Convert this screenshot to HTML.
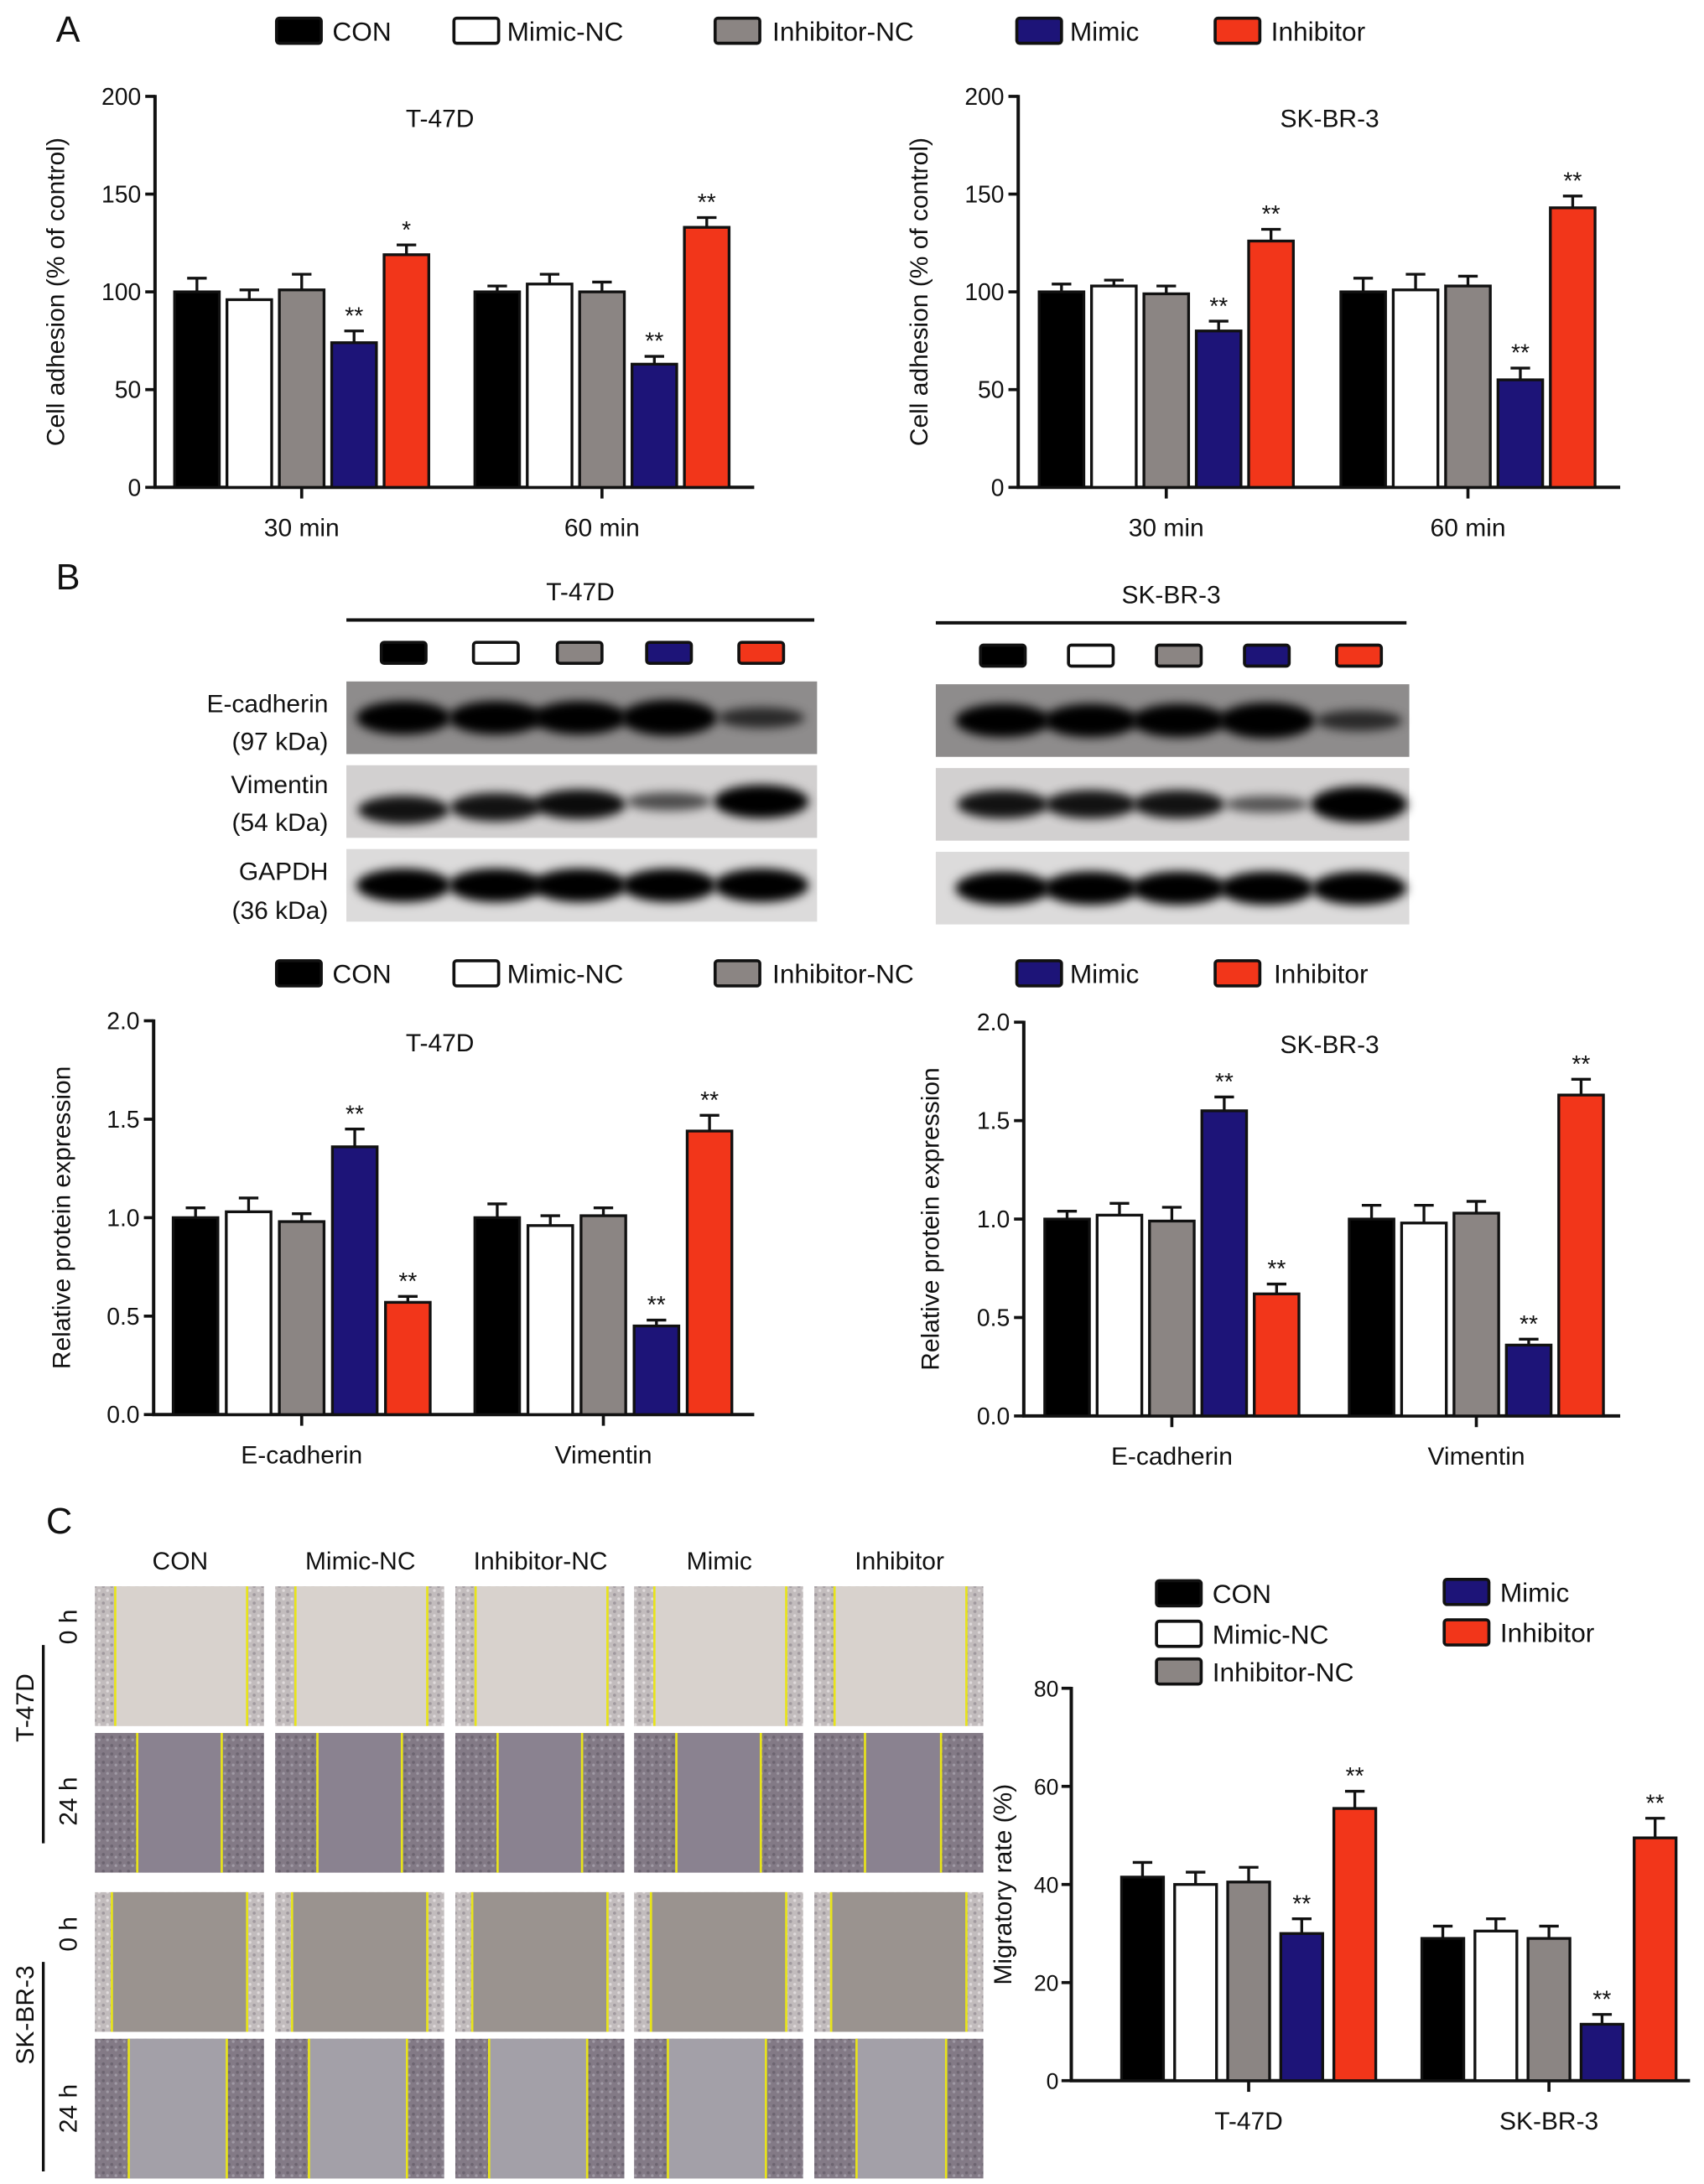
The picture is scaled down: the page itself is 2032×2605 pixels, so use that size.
<!DOCTYPE html>
<html><head><meta charset="utf-8"><style>
html,body{margin:0;padding:0;background:#fff}
svg{display:block}
text{font-family:"Liberation Sans",Arial,sans-serif;fill:#111}
</style></head><body>
<svg id="fig" xmlns="http://www.w3.org/2000/svg" width="2032" height="2605" viewBox="0 0 1220 1564" preserveAspectRatio="none">
<defs>
<filter id="blur" x="-30%" y="-60%" width="160%" height="220%"><feGaussianBlur stdDeviation="3.5"/></filter>
<pattern id="tex0" width="6" height="6" patternUnits="userSpaceOnUse"><rect width="6" height="6" fill="#c2bcbd"/><circle cx="2" cy="2" r="1.1" fill="#9f989d"/><circle cx="5" cy="5" r="1" fill="#e0dbdc"/></pattern>
<pattern id="tex1" width="6" height="6" patternUnits="userSpaceOnUse"><rect width="6" height="6" fill="#837a86"/><circle cx="2" cy="2" r="1.1" fill="#6c6470"/><circle cx="5" cy="4" r="1" fill="#a09aa5"/></pattern>
</defs>
<g id="root"></g>
</svg>
<script>
// ---------- data ----------
const groups = ["CON","Mimic-NC","Inhibitor-NC","Mimic","Inhibitor"];
const adhCats = ["30 min","60 min"];
const adhT47D = [[100,96,101,74,119],[100,104,100,63,133]];
const adhT47DErr = [[7,5,8,6,5],[3,5,5,4,5]];
const adhT47DSig = [["","","","**","*"],["","","","**","**"]];
const adhSK = [[100,103,99,80,126],[100,101,103,55,143]];
const adhSKErr = [[4,3,4,5,6],[7,8,5,6,6]];
const adhSKSig = [["","","","**","**"],["","","","**","**"]];
const adhTicks = [0,50,100,150,200];
const protCats = ["E-cadherin","Vimentin"];
const protT47D = [[1.0,1.03,0.98,1.36,0.57],[1.0,0.96,1.01,0.45,1.44]];
const protT47DErr = [[0.05,0.07,0.04,0.09,0.03],[0.07,0.05,0.04,0.03,0.08]];
const protSK = [[1.0,1.02,0.99,1.55,0.62],[1.0,0.98,1.03,0.36,1.63]];
const protSKErr = [[0.04,0.06,0.07,0.07,0.05],[0.07,0.09,0.06,0.03,0.08]];
const protSig = [["","","","**","**"],["","","","**","**"]];
const protTicks = [0,0.5,1.0,1.5,2.0];
const migCats = ["T-47D","SK-BR-3"];
const migVals = [[41.5,40,40.5,30,55.5],[29,30.5,29,11.5,49.5]];
const migErr = [[3,2.5,3,3,3.5],[2.5,2.5,2.5,2,4]];
const migSig = [["","","","**","**"],["","","","**","**"]];
const migTicks = [0,20,40,60,80];
const blotE_T = [1,1,1,1.1,0.5], blotV_T=[0.8,0.8,0.85,0.4,1], blotG_T=[1,1,1,1,1];
const blotE_S = [1,1,1,1.1,0.5], blotV_S=[0.8,0.8,0.8,0.35,1.1], blotG_S=[1,1,1,1,1];
// ---------- helpers ----------
const NS="http://www.w3.org/2000/svg";
const root=document.getElementById('root');
const fills=["#000000","#ffffff","#8b8583","#1d1478","#f2361a"];
function el(tag,attrs,parent,txt){const e=document.createElementNS(NS,tag);for(const k in attrs)e.setAttribute(k,attrs[k]);if(txt!==undefined)e.textContent=txt;(parent||root).appendChild(e);return e;}
function txt(x,y,s,size,anchor,parent,extra){const t=el('text',Object.assign({x:x,y:y,'font-size':size,'text-anchor':anchor||'start'},extra||{}),parent,s);return t;}

function legendRow(y,xs,tx,parent){
  groups.forEach((g,i)=>{
    const b=el('rect',{x:xs[i],y:y-9,width:32,height:18,rx:2,fill:fills[i],stroke:'#111','stroke-width':2.2},parent);
    
    
    const t=txt(tx[i],y+7,g,19,'start',parent);
    
    
  });
}

function barChart(o){
  const g=el('g',{});
  
  
  const ymax=o.ticks[o.ticks.length-1];
  const Y=v=>o.y0-(v/ymax)*(o.y0-o.yTop);
  el('line',{x1:o.ax,y1:o.yTop-1,x2:o.ax,y2:o.y0+1,stroke:'#111','stroke-width':2.4},g);
  el('line',{x1:o.ax-1,y1:o.y0,x2:o.xEnd,y2:o.y0,stroke:'#111','stroke-width':2.4},g);
  o.ticks.forEach((t,i)=>{
    el('line',{x1:o.ax-7,y1:Y(t),x2:o.ax,y2:Y(t),stroke:'#111','stroke-width':2.2},g);
    const lab=txt(o.ax-(o.tickGap||10),Y(t)+6,o.tickLabels?o.tickLabels[i]:String(t),o.tickSize||17,'end',g);
    
    
  });
  const yl=txt(0,0,o.ylabel,18,'middle',g,{transform:`translate(${o.ylx},${(o.y0+o.yTop)/2}) rotate(-90)`});
  
  
  if(o.title){const tt=txt(o.titleX,o.yTop+22,o.title,18,'middle',g);}
  o.cats.forEach((c,ci)=>{
    const gx=o.gStart[ci];
    const center=gx+(4*o.step+o.bw)/2;
    el('line',{x1:center,y1:o.y0,x2:center,y2:o.y0+8,stroke:'#111','stroke-width':2.2},g);
    const cl=txt(center,o.y0+35,c,18,'middle',g);
    
    
    o.vals[ci].forEach((v,i)=>{
      const x=gx+i*o.step, top=Y(v), et=Y(v+o.err[ci][i]);
      el('line',{x1:x+o.bw/2,y1:top,x2:x+o.bw/2,y2:et,stroke:'#111','stroke-width':2},g);
      el('line',{x1:x+o.bw/2-7,y1:et,x2:x+o.bw/2+7,y2:et,stroke:'#111','stroke-width':2},g);
      const r=el('rect',{x:x,y:top,width:o.bw,height:o.y0-top,fill:fills[i],stroke:'#111','stroke-width':2},g);
      
      
      if(o.sig[ci][i]){const s=txt(x+o.bw/2,et-5,o.sig[ci][i],17,'middle',g);}
    });
  });
}

[["A",40,30],["B",40,422],["C",33,1098]].forEach(p=>{const t=txt(p[1],p[2],p[0],26,'start');});

const legA=el('g',{});
legendRow(22,[198,325,512,728,870],[238,363,553,766,910],legA);
barChart({name:'adhesion-chart-t47d',ax:111,y0:349,yTop:69,xEnd:540,ticks:adhTicks,ylabel:'Cell adhesion (% of control)',ylx:46,title:'T-47D',titleX:315,cats:adhCats,gStart:[125,340],step:37.5,bw:32,vals:adhT47D,err:adhT47DErr,sig:adhT47DSig});
barChart({name:'adhesion-chart-skbr3',ax:729,y0:349,yTop:69,xEnd:1160,ticks:adhTicks,ylabel:'Cell adhesion (% of control)',ylx:664,title:'SK-BR-3',titleX:952,cats:adhCats,gStart:[744,960],step:37.5,bw:32,vals:adhSK,err:adhSKErr,sig:adhSKSig});

function blot(o){
  const g=el('g',{});
  
  
  const h=txt((o.x0+o.x1)/2,o.hy,o.title,18,'middle',g);
  
  
  el('line',{x1:o.x0,y1:o.hy+14,x2:o.x1,y2:o.hy+14,stroke:'#111','stroke-width':2.4},g);
  o.sw.forEach((sx,i)=>{const r=el('rect',{x:sx,y:o.hy+30,width:32,height:15,rx:2,fill:fills[i],stroke:'#111','stroke-width':2.2},g);});
  const rows=[[o.e,'#8e8c8c'],[o.v,'#d2d0d0'],[o.gd,'#dcdbdb']];
  rows.forEach((rw,ri)=>{
    const y=o.rowY[ri];
    const r=el('rect',{x:o.x0,y:y,width:o.x1-o.x0+2,height:52,fill:rw[1]},g);
    
    
    rw[0].forEach((v,i)=>{
      const cx=o.sw[i]+16;
      el('ellipse',{cx:cx,cy:y+26+(ri==1&&i<3&&o.tilt?(3-i)*2:0),rx:28+6*Math.min(v,1.1),ry:3+9*v,fill:'#000',opacity:Math.min(1,0.35+0.7*v),filter:'url(#blur)'},g);
    });
  });
}
blot({name:'western-blot-t47d',title:'T-47D',x0:248,x1:583,hy:430,sw:[273,339,399,463,529],rowY:[488,548,608],e:blotE_T,v:blotV_T,gd:blotG_T,tilt:true});
blot({name:'western-blot-skbr3',title:'SK-BR-3',x0:670,x1:1007,hy:432,sw:[702,765,828,891,957],rowY:[490,550,610],e:blotE_S,v:blotV_S,gd:blotG_S});
[["E-cadherin",504],["(97 kDa)",531],["Vimentin",562],["(54 kDa)",589],["GAPDH",624],["(36 kDa)",652]].forEach(l=>{const t=txt(235,l[1]+6,l[0],18,'end');});

const legB=el('g',{});
legendRow(697,[198,325,512,728,870],[238,363,553,766,912],legB);
const protLabels=protTicks.map(t=>t.toFixed(1));
barChart({name:'protein-chart-t47d',ax:110,y0:1013,yTop:731,xEnd:540,ticks:protTicks,tickLabels:protLabels,ylabel:'Relative protein expression',ylx:50,title:'T-47D',titleX:315,cats:protCats,gStart:[124,340],step:38,bw:32,vals:protT47D,err:protT47DErr,sig:protSig});
barChart({name:'protein-chart-skbr3',ax:733,y0:1014,yTop:732,xEnd:1160,ticks:protTicks,tickLabels:protLabels,ylabel:'Relative protein expression',ylx:672,title:'SK-BR-3',titleX:952,cats:protCats,gStart:[748,966],step:37.5,bw:32,vals:protSK,err:protSKErr,sig:protSig});

const colX=[68,197,326,454,583];
const rowY=[1136,1241,1355,1460];
const cimg=el('g',{});
groups.forEach((gname,i)=>{const t=txt(colX[i]+61,1124,gname,18,'middle',cimg);});
const gaps=[[0.12,0.9],[0.25,0.75],[0.1,0.9],[0.2,0.78]];
const bgs=['#d8d2cd','#8a8290','#9a938f','#a3a0a8'];
rowY.forEach((y,ri)=>{
  colX.forEach((x,ci)=>{
    const w=121,h=100;
    const tex=ri%2==0?'url(#tex0)':'url(#tex1)';
    el('rect',{x:x,y:y,width:w,height:h,fill:tex},cimg);
    const a=gaps[ri][0]+(ci==4&&ri%2==1?0.05:0), b=gaps[ri][1];
    const r=el('rect',{x:x+w*a,y:y,width:w*(b-a),height:h,fill:bgs[ri]},cimg);
    
    
    el('line',{x1:x+w*a,y1:y,x2:x+w*a,y2:y+h,stroke:'#e8e41a','stroke-width':1.6},cimg);
    el('line',{x1:x+w*b,y1:y,x2:x+w*b,y2:y+h,stroke:'#e8e41a','stroke-width':1.6},cimg);
  });
});
[["0 h",55,1165],["24 h",55,1290],["0 h",55,1385],["24 h",55,1510]].forEach(l=>{const t=txt(0,0,l[0],18,'middle',null,{transform:`translate(${l[1]},${l[2]}) rotate(-90)`});});
[["T-47D",24,1223,1178,1320],["SK-BR-3",24,1443,1405,1555]].forEach(l=>{const t=txt(0,0,l[0],18,'middle',null,{transform:`translate(${l[1]},${l[2]}) rotate(-90)`});el('line',{x1:31,y1:l[3],x2:31,y2:l[4],stroke:'#111','stroke-width':2});});

const legC=el('g',{});
[[0,828,1141],[1,828,1170],[2,828,1197],[3,1034,1140],[4,1034,1169]].forEach(l=>{
  const b=el('rect',{x:l[1],y:l[2]-9,width:32,height:18,rx:2,fill:fills[l[0]],stroke:'#111','stroke-width':2.2},legC);
  
  
  const t=txt(l[1]+40,l[2]+7,groups[l[0]],19,'start',legC);
  
  
});
barChart({name:'migration-chart',ax:767,y0:1490,yTop:1209,xEnd:1210,ticks:migTicks,tickSize:16,tickGap:9,ylabel:'Migratory rate (%)',ylx:724,cats:migCats,gStart:[803,1018],step:38,bw:30,vals:migVals,err:migErr,sig:migSig});
</script>
</body></html>
